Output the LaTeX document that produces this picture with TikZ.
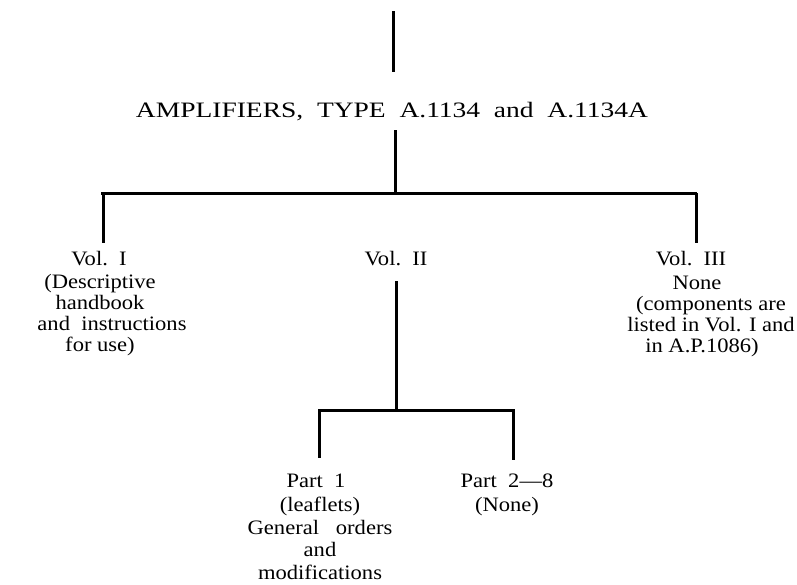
\documentclass[tikz,border=0pt]{standalone}
\usepackage{fontspec}
\setmainfont{Liberation Serif}
\newfontfamily\widefont[FakeStretch=1.25,Ligatures=TeX]{Liberation Serif}
\newfontfamily\bodyfont[FakeStretch=1.1,Ligatures=TeX]{Liberation Serif}
\begin{document}
\begin{tikzpicture}[x=1pt,y=-1pt,
  conn/.style={line width=3pt},
  lbl/.style={font=\bodyfont\fontsize{20.5}{21}\selectfont, inner sep=0pt, align=center, anchor=base},
  ttl/.style={font=\widefont\fontsize{22}{22}\selectfont, inner sep=0pt, anchor=base}]
\useasboundingbox (0,0) rectangle (797,584);
% title
\coordinate (top) at (393,11);
\node[ttl] (title) at (392,117) {AMPLIFIERS,\ \ TYPE\ \ A.1134\ \ and\ \ A.1134A};
\coordinate (topend) at (393,72);
\draw[conn] (top) -- (topend);
\coordinate (tbelow) at (395,130);
\coordinate (hmid) at (395,193);
\coordinate (hl) at (101,193);
\coordinate (hr) at (697,193);
\draw[conn] (tbelow) -- (hmid);
\draw[conn] (hl) -- (hr);
% level 1
\coordinate (l1) at (103,243);
\coordinate (r1) at (696,243);
\draw[conn] (hl -| l1) -- (l1);
\draw[conn] (hr -| r1) -- (r1);
\node[lbl] (vol1) at (99,265) {Vol.\ \ I};
\node[lbl, anchor=north] (desc1) at (100,274) {(Descriptive\\handbook\\\hspace*{24pt}and\ \ instructions\\for use)};
\node[lbl] (vol2) at (396,265) {Vol.\ \ II};
\node[lbl] (vol3) at (691,265) {Vol.\ \ III};
\node[lbl, anchor=north] (desc3) at (711,276) {None\hspace*{28pt}\\(components are\\listed in Vol. I and\\in A.P.1086)\hspace*{18pt}};
% level 2
\coordinate (v2top) at (396,281);
\coordinate (v2bot) at (396,410);
\draw[conn] (v2top) -- (v2bot);
\coordinate (ll) at (318,410);
\coordinate (lr) at (515,410);
\draw[conn] (ll) -- (lr);
\coordinate (p1) at (319,458);
\coordinate (p2) at (513,460);
\draw[conn] (ll -| p1) -- (p1);
\draw[conn] (lr -| p2) -- (p2);
\node[lbl] (part1) at (316,487) {Part\ \ 1};
\node[lbl, anchor=north, font=\bodyfont\fontsize{20.5}{22.5}\selectfont] (desc4) at (320,497) {(leaflets)\\General\ \ \ orders\\and\\modifications};
\node[lbl] (part2) at (507,487) {Part\ \ 2—8};
\node[lbl, anchor=north] (desc5) at (507,497) {(None)};
\end{tikzpicture}
\end{document}
